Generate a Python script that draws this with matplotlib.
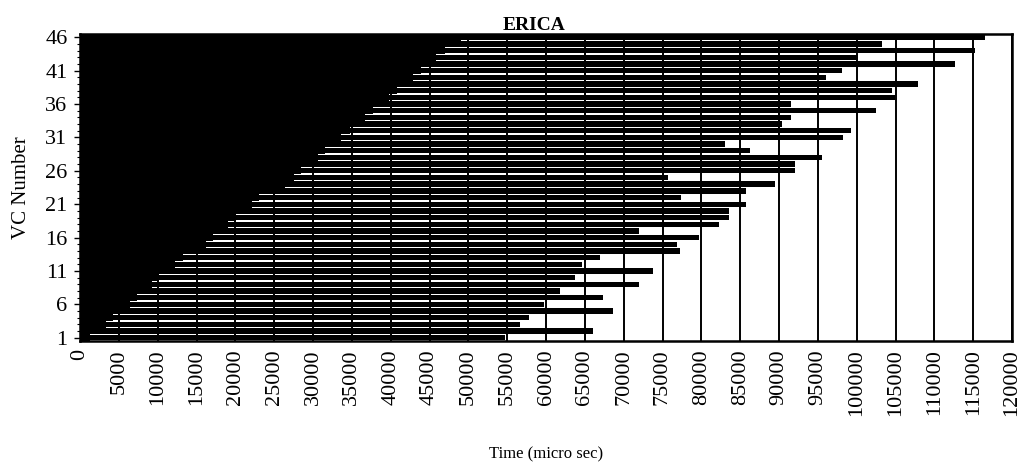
import matplotlib
matplotlib.use("Agg")
import matplotlib.pyplot as plt
import numpy as np

# VC identifiers
vc_numbers = list(range(1, 47))

# Time (micro sec) at which each VC starts transmitting
start_times = [1300, 2300, 3300, 4200, 5300, 6400, 7300, 8200, 9300, 10200,
               11200, 12200, 13200, 14200, 16200, 17100, 18200, 19100, 20100, 21100,
               22100, 23100, 25300, 26400, 27500, 28500, 29500, 30600, 31600, 32600,
               33600, 34700, 35700, 36700, 37700, 38800, 39800, 40800, 41800, 42900,
               43900, 44900, 45900, 47000, 48000, 49000]

# Time (micro sec) at which each VC finishes
end_times = [54700, 66100, 56700, 57800, 68600, 59700, 67400, 61800, 72000, 63700,
             73800, 64600, 66900, 77200, 76900, 79700, 72000, 82300, 83500, 83500,
             85700, 77400, 85700, 89500, 75700, 92100, 92100, 95500, 86300, 83100,
             98300, 99300, 90400, 91500, 102500, 91500, 104900, 104500, 107900, 96100,
             98100, 112600, 100200, 115300, 103300, 116500]

x_ticks = list(range(0, 120001, 5000))
y_ticks = [1, 6, 11, 16, 21, 26, 31, 36, 41, 46]

plt.rcParams['font.family'] = ['Liberation Serif', 'DejaVu Serif']

fig = plt.figure(figsize=(10.24, 4.70), dpi=100)
ax = fig.add_axes([80 / 1024, 1 - 341 / 470, (1012 - 80) / 1024, (341 - 34) / 470])

starts = np.array(start_times)
ends = np.array(end_times)

# waiting period: solid full-height blocks
ax.barh(vc_numbers, starts, left=0, height=1.0, color='black', linewidth=0, zorder=2)
# active period: slightly thinner bars
ax.barh(vc_numbers, ends - starts, left=starts, height=0.8, color='black',
        linewidth=0, zorder=2)

ax.set_xlim(0, 120000)
ax.set_ylim(0.5, 46.5)

ax.set_xticks(x_ticks)
ax.set_xticklabels([str(v) for v in x_ticks], rotation=90, fontsize=16)
ax.set_yticks(y_ticks)
ax.set_yticklabels([str(v) for v in y_ticks], fontsize=16)
ax.set_yticks(vc_numbers, minor=True)
ax.tick_params(axis='y', which='major', length=4, width=1, pad=5)
ax.tick_params(axis='y', which='minor', length=2, width=0.8)
ax.tick_params(axis='x', which='major', length=0, pad=6)

ax.set_axisbelow(True)
ax.grid(axis='x', color='black', linewidth=1.4)
ax.grid(axis='y', visible=False)

for s in ax.spines.values():
    s.set_linewidth(1.8)
    s.set_color('black')
    s.set_zorder(3)

ax.set_title('ERICA', fontsize=14, fontweight='bold', pad=3, x=0.487)
ax.set_ylabel('VC Number', fontsize=15, labelpad=10)
ax.set_xlabel('Time (micro sec)', fontsize=12, labelpad=22, x=0.5)

fig.savefig('out.png', dpi=100)
